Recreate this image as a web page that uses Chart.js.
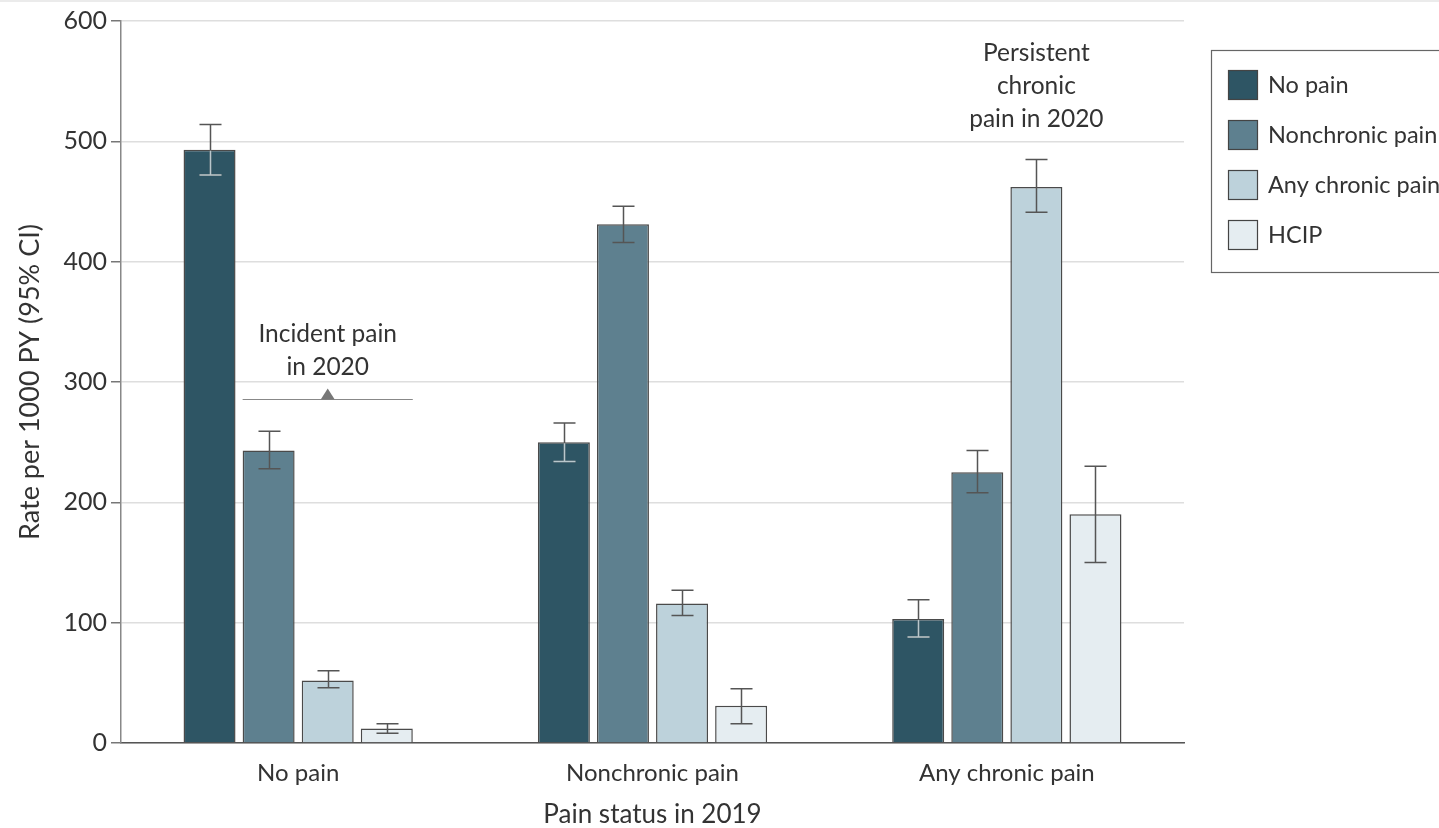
<!DOCTYPE html>
<html>
<head>
<meta charset="utf-8">
<script src="https://cdn.jsdelivr.net/npm/chart.js@4"></script>
<style>
  html, body { margin: 0; padding: 0; background: #fff; overflow: hidden; }
  #wrap { width: 1439px; height: 828px; position: relative; }
</style>
</head>
<body>
<div id="wrap"><canvas id="myChart"></canvas></div>
<script>
const categories = ['No pain', 'Nonchronic pain', 'Any chronic pain'];
const seriesNames = ['No pain', 'Nonchronic pain', 'Any chronic pain', 'HCIP'];
const noPain = [493, 250, 103];
const nonchronicPain = [243, 431, 225];
const anyChronicPain = [52, 116, 462];
const hcip = [12, 31, 190];
const ciLow = [[472, 234, 88], [228, 416, 208], [46, 106, 441], [8, 16, 150]];
const ciHigh = [[514, 266, 119], [259, 446, 243], [60, 127, 485], [16, 45, 230]];
const yTicks = [0, 100, 200, 300, 400, 500, 600];
const colors = ['#2e5564', '#5e808f', '#bdd2db', '#e5edf1'];

const font = 'Lato, "Liberation Sans", Arial, sans-serif';
const textColor = '#333';

const errorBars = {
    id: 'errorBars',
    beforeDraw(chart) {
        // thin grey strip along the top edge
        chart.ctx.save();
        chart.ctx.fillStyle = '#ebebeb';
        chart.ctx.fillRect(0, 0, chart.width, 2);
        chart.ctx.restore();
    },
    afterDatasetsDraw(chart) {
        const ctx = chart.ctx;
        const y = chart.scales.y;
        ctx.save();
        ctx.lineWidth = 1.5;
        chart.data.datasets.forEach((ds, i) => {
            chart.getDatasetMeta(i).data.forEach((bar, j) => {
                const x = Math.round(bar.x) + 0.5;
                const top = y.getPixelForValue(ciHigh[i][j]);
                const bot = y.getPixelForValue(ciLow[i][j]);
                const val = y.getPixelForValue(ds.data[j]);
                ctx.strokeStyle = '#555';
                ctx.beginPath();
                ctx.moveTo(x, top); ctx.lineTo(x, bot);
                ctx.moveTo(x - 11, top); ctx.lineTo(x + 11, top);
                ctx.moveTo(x - 11, bot); ctx.lineTo(x + 11, bot);
                ctx.stroke();
                if (i === 0) {
                    ctx.strokeStyle = '#b9c7cc';
                    ctx.beginPath();
                    ctx.moveTo(x, val + 1); ctx.lineTo(x, bot);
                    ctx.moveTo(x - 11, bot); ctx.lineTo(x + 11, bot);
                    ctx.stroke();
                }
            });
        });
        ctx.restore();
    }
};

const annotations = {
    id: 'annotations',
    afterDraw(chart) {
        const ctx = chart.ctx;
        const y = chart.scales.y;
        ctx.save();
        ctx.font = '24.5px ' + font;
        ctx.fillStyle = textColor;
        ctx.textAlign = 'center';
        ctx.textBaseline = 'middle';

        // incident pain bracket over group 1, bars 2-4
        const m = [1, 2, 3].map(i => chart.getDatasetMeta(i).data[0]);
        const x1 = m[0].x - m[0].width / 2;
        const x2 = m[2].x + m[2].width / 2;
        const cx = m[1].x;
        const ly = Math.round(y.getPixelForValue(286)) + 0.5;
        ctx.fillText('Incident pain', cx, ly - 65);
        ctx.fillText('in 2020', cx, ly - 32);
        ctx.strokeStyle = '#888';
        ctx.lineWidth = 1;
        ctx.beginPath(); ctx.moveTo(x1, ly); ctx.lineTo(x2, ly); ctx.stroke();
        ctx.fillStyle = '#777';
        ctx.beginPath();
        ctx.moveTo(cx - 7, ly); ctx.lineTo(cx + 7, ly); ctx.lineTo(cx, ly - 11);
        ctx.closePath(); ctx.fill();

        // persistent chronic pain label
        ctx.fillStyle = textColor;
        const p = chart.getDatasetMeta(2).data[2];
        ctx.fillText('Persistent', p.x, 53);
        ctx.fillText('chronic', p.x, 86);
        ctx.fillText('pain in 2020', p.x, 119);

        // legend box
        ctx.font = '23.5px ' + font;
        ctx.strokeStyle = '#666';
        ctx.lineWidth = 1.2;
        ctx.strokeRect(1211.5, 50.5, 300, 222);
        ctx.textAlign = 'left';
        seriesNames.forEach((name, i) => {
            const ty = 70 + i * 50;
            ctx.fillStyle = colors[i];
            ctx.fillRect(1228, ty, 30, 30);
            ctx.strokeStyle = '#444';
            ctx.lineWidth = 1.2;
            ctx.strokeRect(1228.5, ty + 0.5, 29, 29);
            ctx.fillStyle = textColor;
            ctx.fillText(name, 1268, ty + 15);
        });
        ctx.restore();
    }
};

const seriesValues = [noPain, nonchronicPain, anyChronicPain, hcip];

new Chart(document.getElementById('myChart'), {
    type: 'bar',
    data: {
        labels: categories,
        datasets: seriesNames.map((name, i) => ({
            label: name,
            data: seriesValues[i],
            backgroundColor: colors[i],
            borderColor: '#4a4a4a',
            borderWidth: 1.5,
            categoryPercentage: 0.667,
            barPercentage: 0.88
        }))
    },
    options: {
        responsive: true,
        maintainAspectRatio: false,
        animation: false,
        layout: { padding: { top: 21, right: 255, bottom: 0, left: 0 } },
        plugins: {
            legend: { display: false },
            tooltip: { enabled: false }
        },
        scales: {
            x: {
                grid: { display: false, drawTicks: false },
                border: { color: '#555', width: 1.5 },
                ticks: { color: textColor, font: { family: font, size: 24 }, padding: 16 },
                title: {
                    display: true,
                    text: 'Pain status in 2019',
                    color: textColor,
                    font: { family: font, size: 26 },
                    padding: { top: 0, bottom: -2 }
                },
                afterFit(scale) { scale.height = 85; }
            },
            y: {
                min: 0,
                max: 600,
                afterBuildTicks(scale) { scale.ticks = yTicks.map(v => ({ value: v })); },
                grid: { color: '#dedede', lineWidth: 1.5, tickLength: 10, tickColor: '#777' },
                border: { color: '#888', width: 1.5 },
                ticks: { color: textColor, font: { family: font, size: 25 }, padding: 4 },
                title: {
                    display: true,
                    text: 'Rate per 1000 PY (95% CI)',
                    color: textColor,
                    font: { family: font, size: 27 },
                    padding: { top: 14, bottom: 0 }
                },
                afterFit(scale) { scale.width = 121; }
            }
        }
    },
    plugins: [errorBars, annotations]
});
</script>
</body>
</html>
